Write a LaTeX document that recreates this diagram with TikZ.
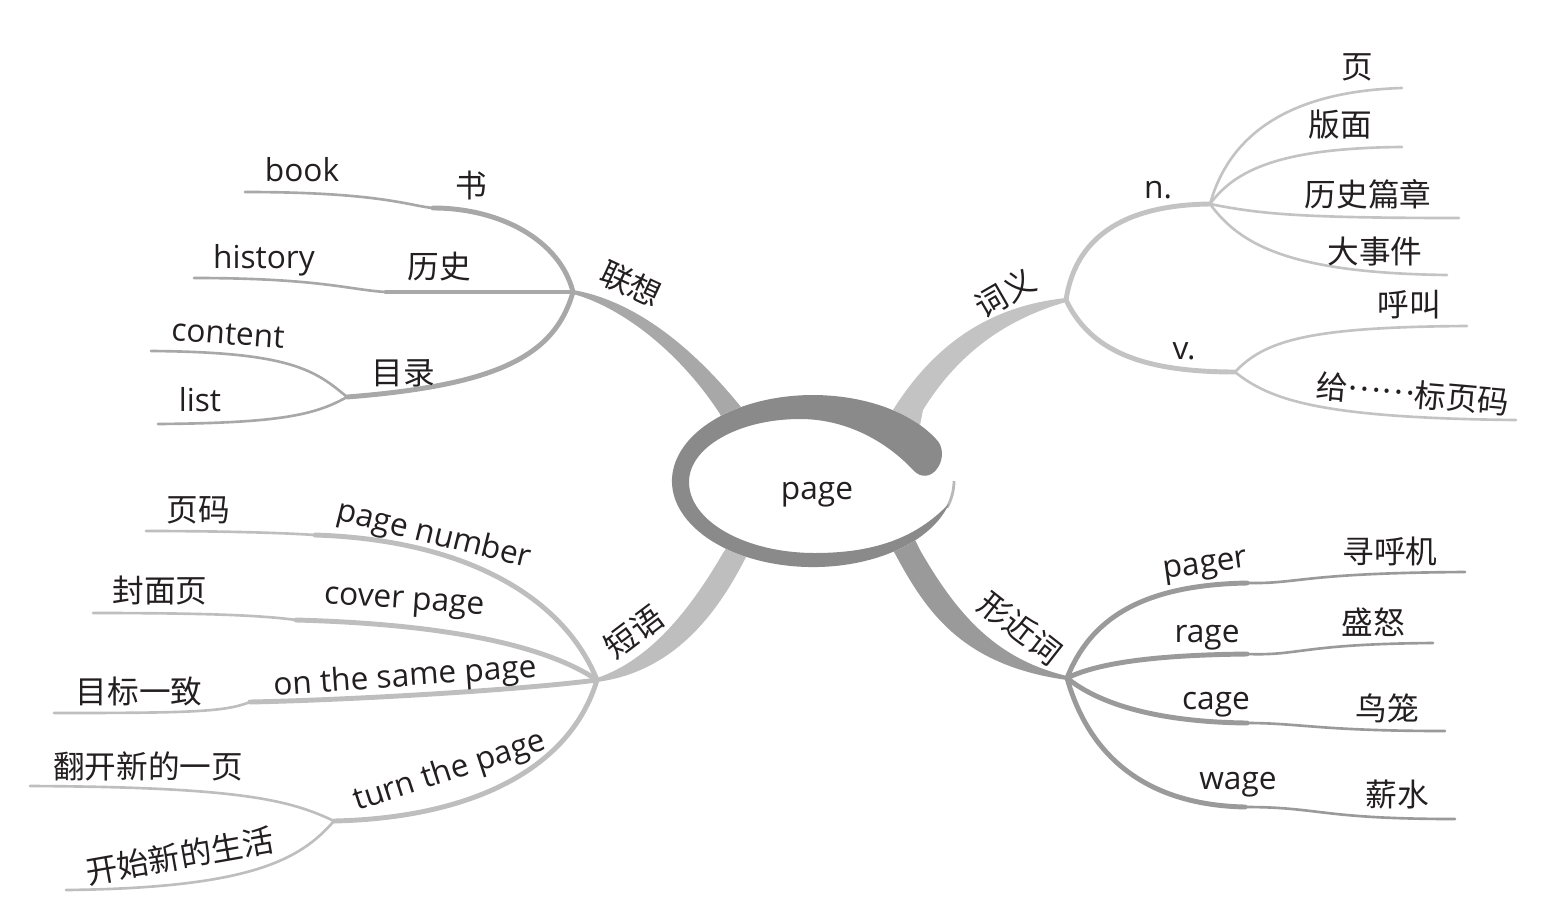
\documentclass[tikz,border=0pt]{standalone}
\usepackage{fontspec}
\setmainfont{Open Sans}
\newfontfamily\cjk{Noto Sans CJK SC}
\usetikzlibrary{calc}
\definecolor{ringgray}{HTML}{8A8A8A}
\definecolor{assocgray}{HTML}{A8A8A8}
\definecolor{meangray}{HTML}{C3C3C3}
\definecolor{phrgray}{HTML}{BEBEBE}
\definecolor{simgray}{HTML}{9A9A9A}
\definecolor{ink}{HTML}{231F20}

\begin{document}
\begin{tikzpicture}[x=0.01cm, y=-0.01cm,
  en/.style={font=\fontsize{9}{11}\selectfont, text=ink, inner sep=0pt},
  zh/.style={font=\cjk\fontsize{9}{11}\selectfont, text=ink, inner sep=0pt},
  stem/.style={line width=1.4pt, line cap=round},
  twig/.style={line width=0.75pt, line cap=round}]
  \useasboundingbox (0,0) rectangle (1549,900);
  % hubs
  \coordinate (hubA) at (573,292); \coordinate (hubB) at (1066,300);
  \coordinate (hubC) at (597,680); \coordinate (hubD) at (1067,678);

  % trunks
  \fill[assocgray] (573,290) .. controls (620,298) and (680,330) .. (745,412) -- (770,450) -- (740,460) -- (720,414) .. controls (675,345) and (615,305) .. (573,294) -- cycle;
  \fill[meangray] (1066,298) .. controls (1000,305) and (940,335) .. (893,410) -- (880,450) -- (915,450) -- (923,410) .. controls (960,350) and (1010,318) .. (1066,302) -- cycle;
  \fill[phrgray] (597,678) .. controls (650,660) and (690,610) .. (723,553) -- (745,520) -- (770,530) -- (748,553) .. controls (715,620) and (670,672) .. (597,682) -- cycle;
  \fill[simgray] (893,550) .. controls (925,610) and (960,665) .. (1067,680) -- (1067,676) .. controls (1000,660) and (960,620) .. (920,550) -- (905,520) -- (875,525) -- cycle;

  % centre
  \coordinate (ctr) at (813,481);
  \fill[white] (ctr) ellipse [x radius=141, y radius=86];
  \draw[ringgray!60, line width=0.8pt] (954,481) arc[start angle=0, end angle=18, x radius=141, y radius=86];
  \fill[ringgray] (938.6,442) arc[start angle=-27, end angle=-345, x radius=141, y radius=86]
    .. controls (915,540) and (870,553) .. (815,553) .. controls (745,553) and (689,521) .. (689,482)
    .. controls (689,447) and (739,419) .. (800,419) .. controls (850,419) and (890,445) .. (913,470)
    .. controls (930,488) and (950,460) .. (938.6,442) -- cycle;
  \node[en] (page) at (817,495) {page};

  % association
  \coordinate (shuM) at (433,208); \coordinate (lsM) at (386,292); \coordinate (mlM) at (347,397);
  \coordinate (bookE) at (245,192); \coordinate (histE) at (194,278);
  \coordinate (contE) at (151,351); \coordinate (listE) at (158,424);
  \draw[stem, assocgray] (hubA) .. controls (560,240) and (500,208) .. (shuM);
  \draw[stem, assocgray] (hubA) -- (lsM);
  \draw[stem, assocgray] (hubA) .. controls (555,355) and (500,385) .. (mlM);
  \draw[twig, assocgray] (shuM) .. controls (410,206) and (380,192) .. (bookE);
  \draw[twig, assocgray] (lsM) .. controls (350,290) and (320,278) .. (histE);
  \draw[twig, assocgray] (mlM) .. controls (315,370) and (290,352) .. (contE);
  \draw[twig, assocgray] (mlM) .. controls (315,415) and (280,423) .. (listE);
  \node[zh, rotate=-25] (lianxiang) at (631,284) {联想};
  \node[zh] (shu) at (471,185) {书};
  \node[en] (book) at (302,170) {book};
  \node[zh] (lishi) at (439,267) {历史};
  \node[en] (history) at (264,260) {history};
  \node[zh] (mulu) at (403,373) {目录};
  \node[en, rotate=-4] (content) at (228,334) {content};
  \node[en] (list) at (200,400) {list};

  % meaning
  \coordinate (nM) at (1210,204); \coordinate (vM) at (1235,372);
  \coordinate (yeE) at (1402,88); \coordinate (bmE) at (1402,147); \coordinate (lspE) at (1459,218);
  \coordinate (dsjE) at (1447,275); \coordinate (hjE) at (1467,326); \coordinate (bymE) at (1516,420);
  \draw[stem, meangray] (hubB) .. controls (1075,240) and (1120,205) .. (nM);
  \draw[stem, meangray] (hubB) .. controls (1090,350) and (1140,372) .. (vM);
  \draw[twig, meangray] (nM) .. controls (1225,150) and (1270,92) .. (yeE);
  \draw[twig, meangray] (nM) .. controls (1235,170) and (1280,148) .. (bmE);
  \draw[twig, meangray] (nM) .. controls (1260,214) and (1300,218) .. (lspE);
  \draw[twig, meangray] (nM) .. controls (1240,245) and (1290,273) .. (dsjE);
  \draw[twig, meangray] (vM) .. controls (1265,340) and (1310,327) .. (hjE);
  \draw[twig, meangray] (vM) .. controls (1270,400) and (1320,418) .. (bymE);
  \node[zh, rotate=30] (ciyi) at (1005,293) {词义};
  \node[en] (noun) at (1158,190) {n.};
  \node[en] (verb) at (1184,351) {v.};
  \node[zh] (ye) at (1357,67) {页};
  \node[zh] (banmian) at (1340,125) {版面};
  \node[zh] (lspz) at (1368,194) {历史篇章};
  \node[zh] (dashijian) at (1375,252) {大事件};
  \node[zh] (hujiao) at (1409,305) {呼叫};
  \node[zh, rotate=-5] (biaoyema) at (1413,394) {给\raisebox{0.33em}{……}标页码};

  % phrases
  \coordinate (pnM) at (315,535); \coordinate (cpM) at (296,620);
  \coordinate (spM) at (250,702); \coordinate (tpM) at (334,821);
  \coordinate (ymE) at (146,531); \coordinate (fmE) at (93,613); \coordinate (mbE) at (54,713);
  \coordinate (fkE) at (30,786); \coordinate (ksE) at (66,890);
  \draw[stem, phrgray] (hubC) .. controls (565,600) and (470,540) .. (pnM);
  \draw[stem, phrgray] (hubC) .. controls (560,655) and (480,625) .. (cpM);
  \draw[stem, phrgray] (hubC) .. controls (520,690) and (350,700) .. (spM);
  \draw[stem, phrgray] (hubC) .. controls (570,770) and (470,818) .. (tpM);
  \draw[twig, phrgray] (pnM) .. controls (270,532) and (200,531) .. (ymE);
  \draw[twig, phrgray] (cpM) .. controls (260,615) and (200,613) .. (fmE);
  \draw[twig, phrgray] (spM) .. controls (225,712) and (190,713) .. (mbE);
  \draw[twig, phrgray] (tpM) .. controls (290,800) and (240,787) .. (fkE);
  \draw[twig, phrgray] (tpM) .. controls (300,860) and (250,888) .. (ksE);
  \node[zh, rotate=37] (duanyu) at (634,632) {短语};
  \node[zh] (yema) at (198,510) {页码};
  \node[en, rotate=-14] (pagenum) at (434,536) {page number};
  \node[zh] (fengmian) at (160,591) {封面页};
  \node[en, rotate=-4] (coverpg) at (404,604) {cover page};
  \node[zh] (mubiao) at (139,691) {目标一致};
  \node[en, rotate=4] (samepg) at (405,678) {on the same page};
  \node[zh] (fankai) at (148,766) {翻开新的一页};
  \node[en, rotate=18] (turnpg) at (450,772) {turn the page};
  \node[zh, rotate=10] (kaishi) at (180,856) {开始新的生活};

  % similar words
  \coordinate (pgM) at (1247,583); \coordinate (rgM) at (1247,654);
  \coordinate (cgM) at (1247,723); \coordinate (wgM) at (1245,807);
  \coordinate (xhE) at (1465,572); \coordinate (snE) at (1433,643);
  \coordinate (nlE) at (1445,731); \coordinate (xsE) at (1455,819);
  \draw[stem, simgray] (hubD) .. controls (1090,620) and (1140,585) .. (pgM);
  \draw[stem, simgray] (hubD) .. controls (1100,662) and (1160,655) .. (rgM);
  \draw[stem, simgray] (hubD) .. controls (1100,705) and (1160,722) .. (cgM);
  \draw[stem, simgray] (hubD) .. controls (1090,760) and (1150,805) .. (wgM);
  \draw[twig, simgray] (pgM) .. controls (1300,584) and (1300,573) .. (xhE);
  \draw[twig, simgray] (rgM) .. controls (1300,656) and (1300,644) .. (snE);
  \draw[twig, simgray] (cgM) .. controls (1300,723) and (1320,731) .. (nlE);
  \draw[twig, simgray] (wgM) .. controls (1320,807) and (1320,819) .. (xsE);
  \node[zh, rotate=-38] (xingjin) at (1020,628) {形近词};
  \node[en, rotate=8] (pager) at (1206,568) {pager};
  \node[zh] (xunhuji) at (1390,551) {寻呼机};
  \node[en] (rage) at (1207,638) {rage};
  \node[zh] (shengnu) at (1373,622) {盛怒};
  \node[en] (cage) at (1216,705) {cage};
  \node[zh] (niaolong) at (1387,708) {鸟笼};
  \node[en] (wage) at (1238,785) {wage};
  \node[zh] (xinshui) at (1397,794) {薪水};
\end{tikzpicture}
\end{document}
